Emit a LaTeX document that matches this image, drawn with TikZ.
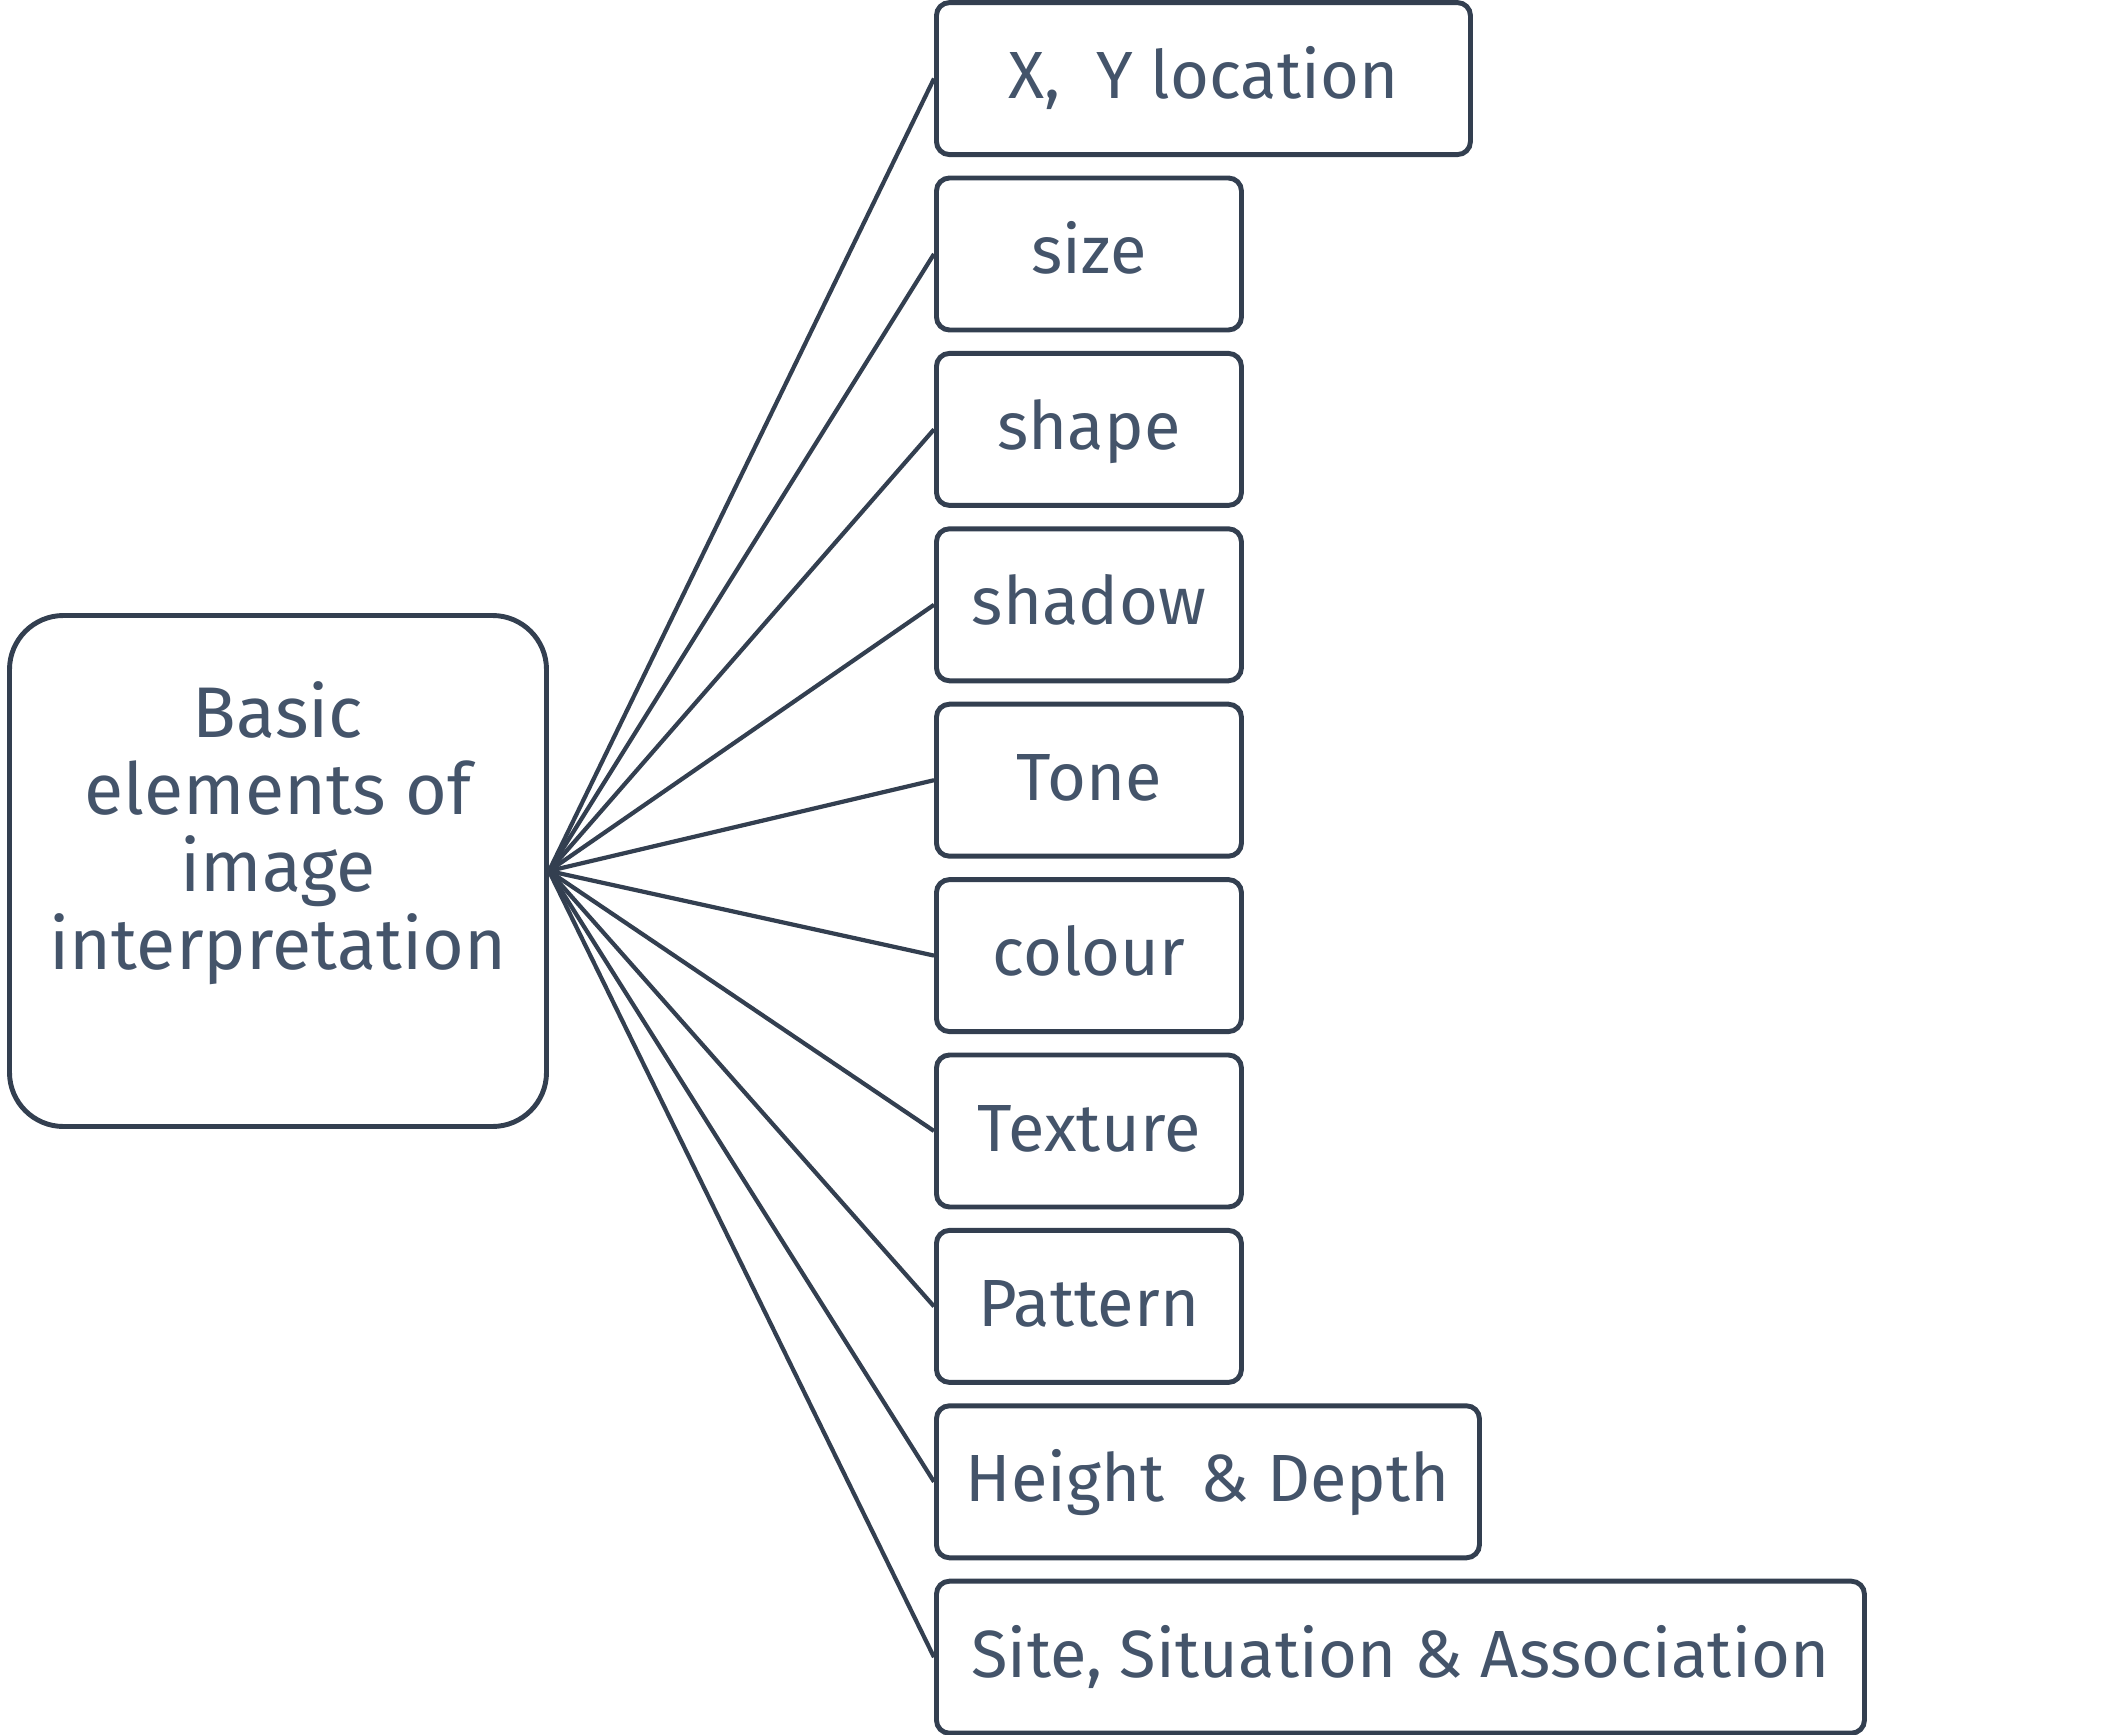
\documentclass[tikz,border=0pt]{standalone}
\usepackage{fontspec}
\setmainfont{Fira Sans}[LetterSpace=0.2]
\definecolor{txt}{HTML}{44546A}
\definecolor{edge}{HTML}{333F50}
\begin{document}
\begin{tikzpicture}[
  mainbox/.style={draw=edge, line width=1.4pt, rounded corners=0.54cm, minimum width=5.37cm, minimum height=5.11cm, inner sep=0pt},
  itembox/.style={draw=edge, line width=1.4pt, rounded corners=0.13cm, minimum height=1.52cm, anchor=west, inner sep=0pt, text height=0.4cm, text depth=0cm, text=txt, font=\fontsize{19}{22}\selectfont},
  conn/.style={draw=edge, line width=1.2pt}
]
\useasboundingbox (0,0) rectangle (21.26,-17.35);
\node[mainbox] (main) at (2.78,-8.71) {};
\node[text=txt, align=center, font=\fontsize{20.4}{22}\selectfont] (maintext) at (2.78,-8.33) {Basic\\elements of\\image\\interpretation};
\node[itembox, minimum width=5.34cm] (b1) at (9.34,-0.786) {X,\ \ Y location};
\node[itembox, minimum width=3.05cm] (b2) at (9.34,-2.540) {size};
\node[itembox, minimum width=3.05cm] (b3) at (9.34,-4.294) {shape};
\node[itembox, minimum width=3.05cm] (b4) at (9.34,-6.048) {shadow};
\node[itembox, minimum width=3.05cm] (b5) at (9.34,-7.802) {Tone};
\node[itembox, minimum width=3.05cm] (b6) at (9.34,-9.556) {colour};
\node[itembox, minimum width=3.05cm] (b7) at (9.34,-11.310) {Texture};
\node[itembox, minimum width=3.05cm] (b8) at (9.34,-13.064) {Pattern};
\node[itembox, minimum width=5.43cm] (b9) at (9.34,-14.818) {Height\ \ \& Depth};
\node[itembox, minimum width=9.28cm] (b10) at (9.34,-16.572) {Site, Situation \& Association};
\foreach \i in {1,...,10} \draw[conn] (main.east) -- (b\i.west);
\end{tikzpicture}
\end{document}
